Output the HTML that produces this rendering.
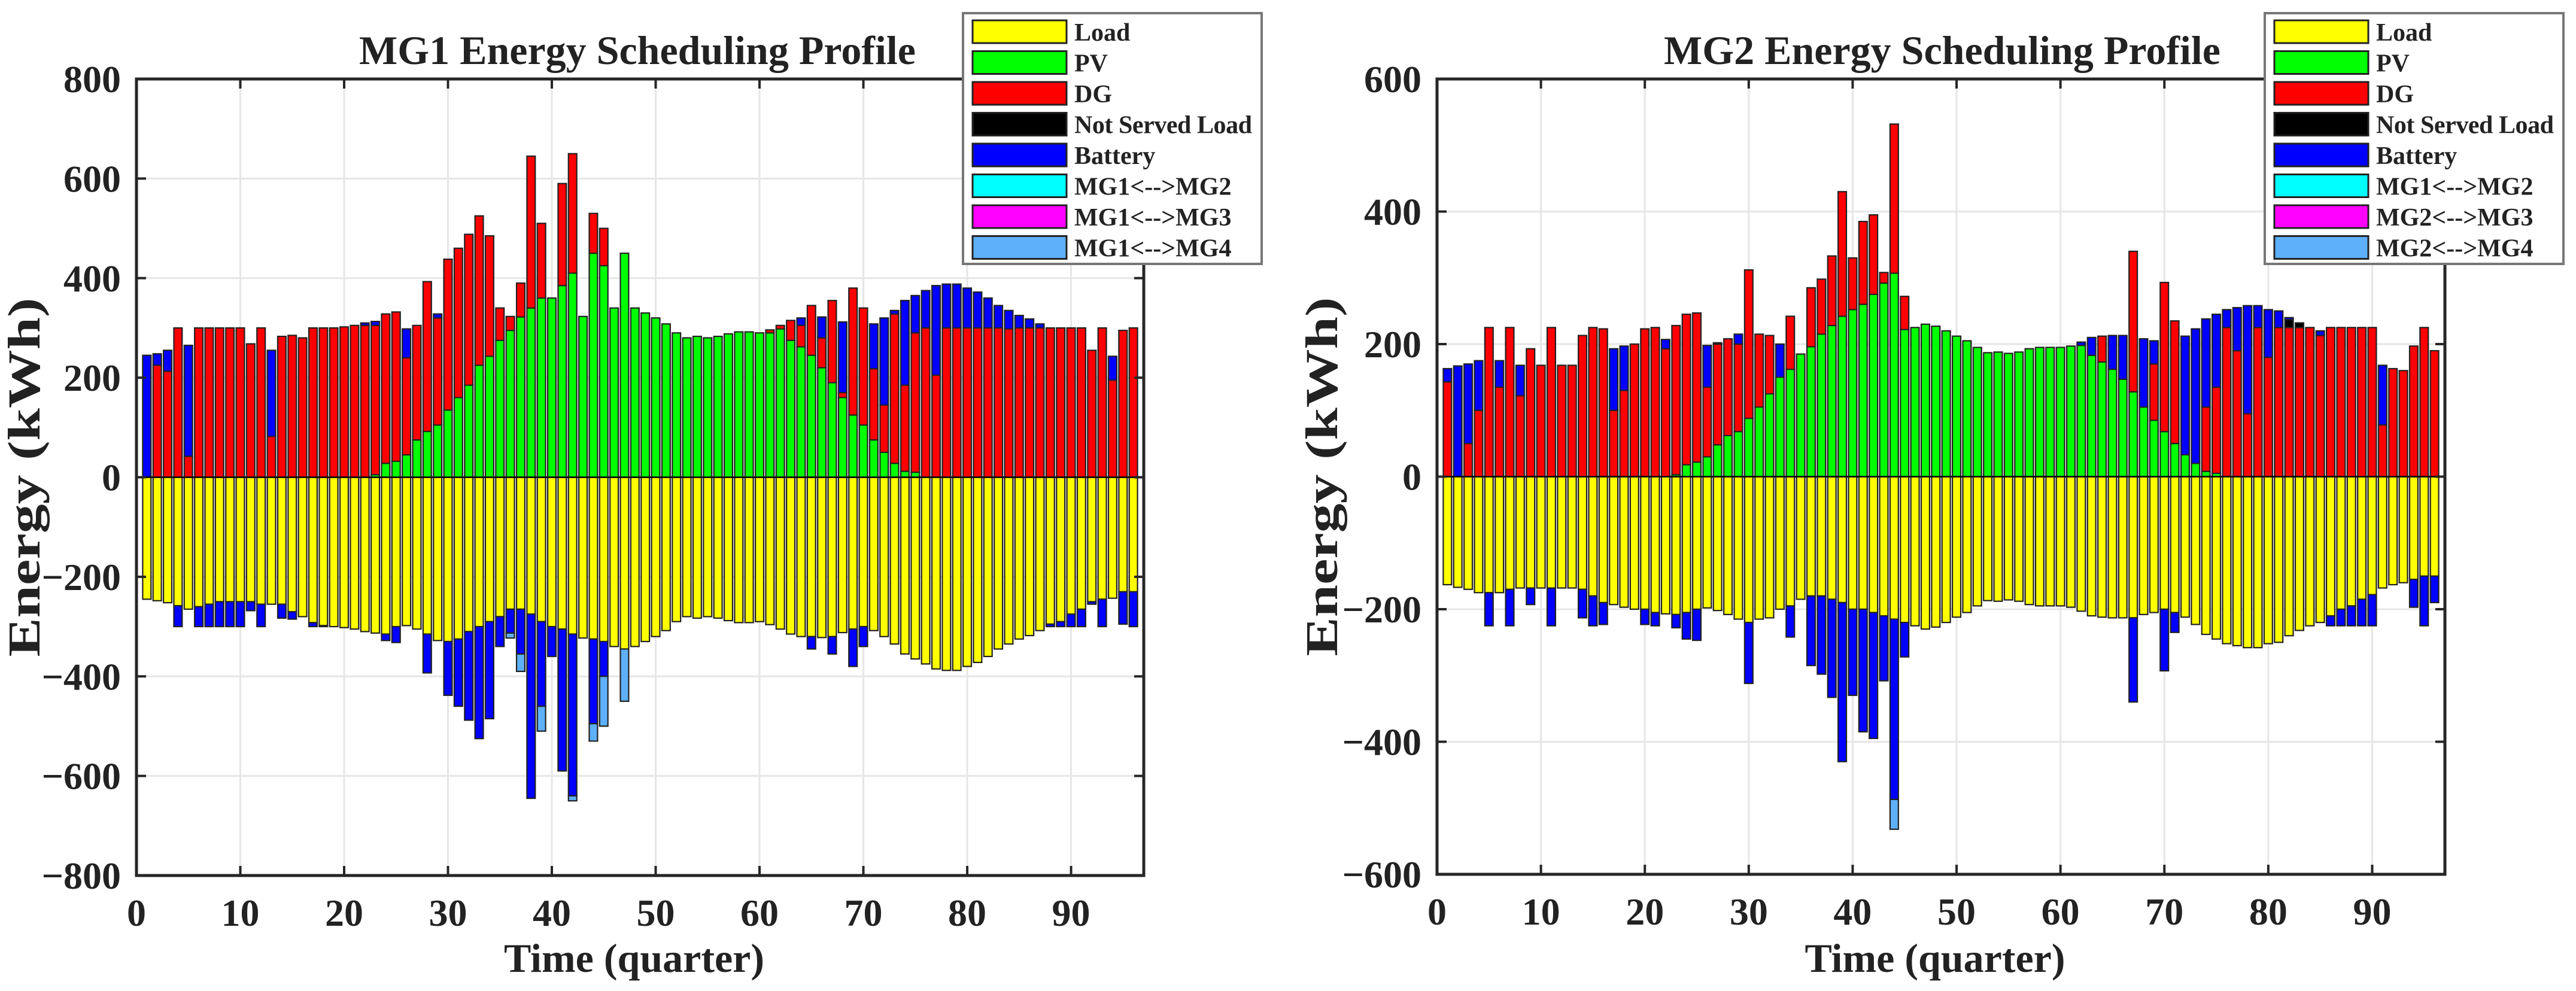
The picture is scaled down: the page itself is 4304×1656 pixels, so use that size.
<!DOCTYPE html>
<html><head><meta charset="utf-8"><title>MG Energy Scheduling</title>
<style>html,body{margin:0;padding:0;background:#fff}svg{display:block}
text{font-family:"Liberation Serif",serif;font-weight:bold;fill:#222}</style></head>
<body>
<svg id="fig" xmlns="http://www.w3.org/2000/svg" width="4304" height="1656" viewBox="0 0 4304 1656">
<rect x="0" y="0" width="4304" height="1656" fill="#fff"/>
</svg>
<script>
// ---- data: MG1 ----
const quarters = Array.from({length:96},(_,i)=>i+1);
const mg1Load=[245,248,252,258,265,260,255,250,250,250,250,255,255,255,270,280,292,298,300,302,305,310,313,315,300,298,305,315,328,330,325,310,300,290,280,265,265,275,290,300,305,315,323,325,330,340,345,340,330,320,308,290,280,283,280,283,288,292,292,290,296,305,315,320,320,322,320,312,305,300,308,320,335,355,365,375,385,388,388,380,372,360,345,335,325,318,308,295,290,275,265,250,245,243,230,230];
const mg1PV=[0,0,0,0,0,0,0,0,0,0,0,0,0,0,0,0,0,0,0,0,0,0,5,28,32,45,75,92,105,135,160,185,225,243,275,295,322,340,360,360,385,410,323,450,425,340,450,340,330,320,308,290,280,283,280,283,288,292,292,290,290,298,275,262,245,220,190,160,125,105,75,50,28,12,10,0,0,0,0,0,0,0,0,0,0,0,0,0,0,0,0,0,0,0,0,0];
const mg1DG=[0,225,213,300,42,300,300,300,300,300,268,300,82,283,285,280,300,300,300,302,305,305,300,300,300,195,230,301,215,303,300,303,300,242,65,28,68,305,150,0,205,240,0,80,75,0,0,0,0,0,0,0,0,0,0,0,0,0,0,0,6,7,40,43,100,60,165,10,255,235,143,95,300,173,280,300,205,300,300,300,300,300,300,298,300,300,300,300,300,300,300,255,300,195,295,300];
const mg1NSL=new Array(96).fill(0);
const mg1Batt=[245,23,42,-42,223,-40,-45,-50,-50,-50,-18,-45,173,-28,-15,0,-8,-2,0,0,0,5,8,-13,-32,58,0,-78,8,-108,-135,-178,-225,-195,-60,-48,-90,-370,-170,-60,-285,-325,0,-170,-70,0,0,0,0,0,0,0,0,0,0,0,0,0,0,0,0,0,0,15,-25,42,-35,142,-75,-40,90,175,7,170,75,75,180,88,88,80,72,60,45,37,25,18,8,-5,-10,-25,-35,-5,-55,48,-65,-70];
const mg1MG12=new Array(96).fill(0);
const mg1MG13=new Array(96).fill(0);
const mg1MG14=new Array(96).fill(0);
mg1MG14[35]=-10; mg1MG14[36]=-35; mg1MG14[38]=-50; mg1MG14[41]=-10; mg1MG14[43]=-35; mg1MG14[44]=-100; mg1MG14[46]=-105;
// ---- data: MG2 ----
const mg2Load=[163,167,170,175,175,175,170,168,168,168,168,168,168,170,180,190,193,197,200,200,205,207,208,205,200,198,202,208,215,220,215,213,200,195,185,180,180,185,190,200,200,205,210,215,220,225,230,227,220,212,205,195,187,188,186,188,193,195,195,195,197,203,210,212,213,213,213,208,205,200,205,212,223,238,245,252,255,258,258,252,250,240,232,225,220,210,200,195,185,178,168,163,160,155,150,150];
const mg2PV=[0,0,0,0,0,0,0,0,0,0,0,0,0,0,0,0,0,0,0,0,0,0,3,18,22,30,48,62,68,88,105,125,150,162,185,196,215,228,242,252,260,275,292,307,222,225,230,227,220,212,205,195,187,188,186,188,193,195,195,195,197,198,183,173,162,147,128,105,85,68,50,33,20,8,5,0,0,0,0,0,0,0,0,0,0,0,0,0,0,0,0,0,0,0,0,0];
const mg2DG=[143,0,50,100,225,135,225,122,193,168,225,168,168,213,225,223,100,130,200,223,225,193,225,227,225,105,152,146,132,224,110,88,0,80,0,89,83,105,188,78,125,120,16,225,50,0,0,0,0,0,0,0,0,0,0,0,0,0,0,0,0,0,0,39,0,0,212,0,85,225,185,0,0,97,130,225,190,95,225,180,225,225,225,225,213,225,225,225,225,225,78,163,160,197,225,190];
const mg2NSL=new Array(96).fill(0);
mg2NSL[81]=12; mg2NSL[82]=7;
const mg2Batt=[20,167,120,75,-50,40,-55,46,-25,0,-57,0,0,-43,-45,-33,93,67,0,-23,-20,14,-20,-40,-47,63,2,0,15,-92,0,0,50,-47,0,-105,-118,-148,-240,-130,-185,-190,-98,-272,-52,0,0,0,0,0,0,0,0,0,0,0,0,0,0,0,0,5,27,0,51,66,-127,103,35,-93,-30,179,203,133,110,27,65,163,33,72,25,3,0,0,7,-15,-25,-30,-40,-47,90,0,0,-42,-75,-40];
const mg2MG12=new Array(96).fill(0);
const mg2MG23=new Array(96).fill(0);
const mg2MG24=new Array(96).fill(0);
mg2MG24[43]=-45;
// ---- ticks ----
const xTicks=[0,10,20,30,40,50,60,70,80,90];
const mg1YTicks=[-800,-600,-400,-200,0,200,400,600,800];
const mg2YTicks=[-600,-400,-200,0,200,400,600];
const mg1Legend=["Load","PV","DG","Not Served Load","Battery","MG1<-->MG2","MG1<-->MG3","MG1<-->MG4"];
const mg2Legend=["Load","PV","DG","Not Served Load","Battery","MG1<-->MG2","MG2<-->MG3","MG2<-->MG4"];
const colors=["#ffff00","#00ff00","#ff0000","#000000","#0000ff","#00ffff","#ff00ff","#5eb0fb"];
const NS="http://www.w3.org/2000/svg";
const svg=document.getElementById('fig');
function mk(tag,attrs,parent){const e=document.createElementNS(NS,tag);for(const k in attrs)e.setAttribute(k,attrs[k]);(parent||svg).appendChild(e);return e;}

function drawChart(cfg){
  const g=mk('g',{});
  
  
  const L=cfg.left,R=cfg.right,T=cfg.top,B=cfg.bottom;
  const xs=v=>L+(v-0)/(97-0)*(R-L);
  const ys=v=>T+(cfg.ymax-v)/(cfg.ymax-cfg.ymin)*(B-T);
  xTicks.forEach(t=>{const l=mk('line',{x1:xs(t),x2:xs(t),y1:T,y2:B,stroke:'#e6e6e6','stroke-width':3},g);
    });
  cfg.yTicks.forEach(t=>{const l=mk('line',{x1:L,x2:R,y1:ys(t),y2:ys(t),stroke:'#e6e6e6','stroke-width':3},g);
    });
  const bw=0.8*(R-L)/97;
  const series=cfg.series;
  quarters.forEach((q,i)=>{
    let pos=0,neg=0;
    series.forEach((s,k)=>{
      const v=(k===0)?-s[i]:s[i];
      if(v===0)return;
      let y0,y1;
      if(v>0){y0=pos;y1=pos+v;pos=y1;}else{y0=neg;y1=neg+v;neg=y1;}
      const r=mk('rect',{x:xs(q)-bw/2,y:Math.min(ys(y0),ys(y1)),width:bw,height:Math.abs(ys(y1)-ys(y0)),fill:colors[k],stroke:'#222','stroke-width':2.2},g);
      
      
    });
  });
  mk('line',{x1:L,x2:R,y1:ys(0),y2:ys(0),stroke:'#000','stroke-width':2.5},g);
  const ax=mk('rect',{x:L,y:T,width:R-L,height:B-T,fill:'none',stroke:'#262626','stroke-width':5},g);
  
  xTicks.forEach(t=>{
    mk('line',{x1:xs(t),x2:xs(t),y1:B,y2:B-16,stroke:'#262626','stroke-width':4},g);
    mk('line',{x1:xs(t),x2:xs(t),y1:T,y2:T+16,stroke:'#262626','stroke-width':4},g);
    const tx=mk('text',{x:xs(t),y:B+84,'text-anchor':'middle','font-size':64},g);tx.textContent=t;
    
  });
  cfg.yTicks.forEach(t=>{
    mk('line',{x1:L,x2:L+16,y1:ys(t),y2:ys(t),stroke:'#262626','stroke-width':4},g);
    mk('line',{x1:R,x2:R-16,y1:ys(t),y2:ys(t),stroke:'#262626','stroke-width':4},g);
    const tx=mk('text',{x:L-26,y:ys(t)+22,'text-anchor':'end','font-size':64},g);tx.textContent=(t<0?'\u2212'+(-t):t);
    
  });
  const ti=mk('text',{x:cfg.titleX,y:107,'text-anchor':'middle','font-size':68},g);ti.textContent=cfg.title;
  
  const xl=mk('text',{x:(L+R)/2-10,y:1624,'text-anchor':'middle','font-size':68},g);xl.textContent='Time (quarter)';
  
  const yl=mk('text',{x:0,y:0,'text-anchor':'middle','font-size':76,textLength:600,lengthAdjust:'spacingAndGlyphs',transform:`translate(${cfg.ylabelX},${(T+B)/2}) rotate(-90)`},g);yl.textContent='Energy (kWh)';
  
  const lg=mk('g',{},g);
  
  mk('rect',{x:cfg.lgX,y:22,width:499,height:419,fill:'#fff',stroke:'#777','stroke-width':4},lg);
  cfg.legend.forEach((name,k)=>{
    const yy=34+k*51.5;
    const e=mk('g',{},lg);
    
    
    mk('rect',{x:cfg.lgX+16,y:yy,width:157,height:38,fill:colors[k],stroke:'#222','stroke-width':3},e);
    const t=mk('text',{x:cfg.lgX+186,y:yy+34,'font-size':42,textLength:name==='Not Served Load'?297:null},e);
    if(name!=='Not Served Load')t.removeAttribute('textLength');
    t.textContent=name;
  });
}
drawChart({name:'mg1-chart',title:'MG1 Energy Scheduling Profile',titleX:1065,left:228,right:1911,top:132,bottom:1463,ymin:-800,ymax:800,yTicks:mg1YTicks,ylabelX:66,lgX:1609,legend:mg1Legend,
  series:[mg1Load,mg1PV,mg1DG,mg1NSL,mg1Batt,mg1MG12,mg1MG13,mg1MG14]});
drawChart({name:'mg2-chart',title:'MG2 Energy Scheduling Profile',titleX:3245,left:2401,right:4085,top:132,bottom:1461,ymin:-600,ymax:600,yTicks:mg2YTicks,ylabelX:2234,lgX:3784,legend:mg2Legend,
  series:[mg2Load,mg2PV,mg2DG,mg2NSL,mg2Batt,mg2MG12,mg2MG23,mg2MG24]});
</script>
</body></html>
